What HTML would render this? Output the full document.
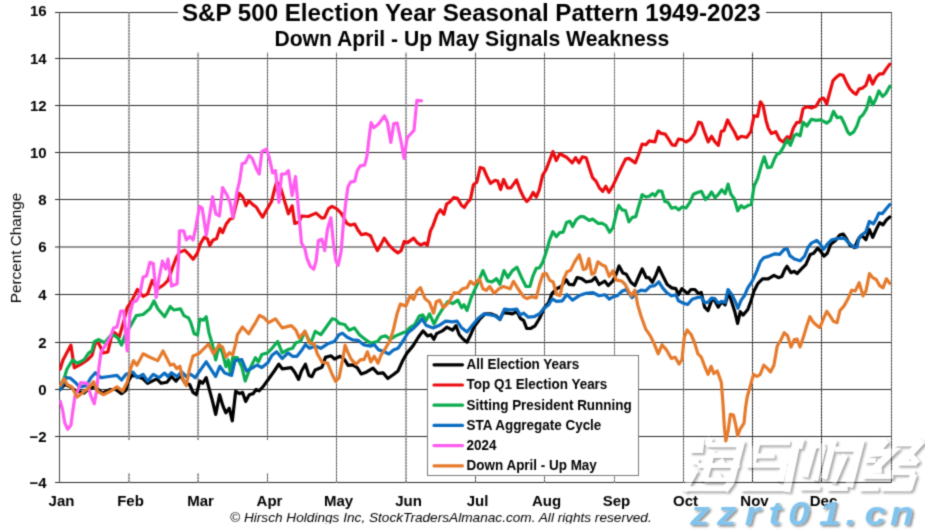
<!DOCTYPE html>
<html><head><meta charset="utf-8"><title>S&amp;P 500 Election Year Seasonal Pattern</title>
<style>
html,body{margin:0;padding:0;background:#fff;}
body{width:925px;height:530px;overflow:hidden;font-family:"Liberation Sans",sans-serif;}
svg{display:block;}
text{font-family:"Liberation Sans",sans-serif;}
.b{font-weight:bold;}
.ln{fill:none;stroke-width:3.2;stroke-linejoin:round;stroke-linecap:round;}
</style></head><body>
<svg width="925" height="530" viewBox="0 0 925 530">
<defs>
<filter id="sh" x="-5%" y="-10%" width="110%" height="130%"><feDropShadow dx="2.2" dy="2.2" stdDeviation="0.9" flood-color="#000" flood-opacity="0.42"/></filter>
<filter id="sh2" x="-5%" y="-10%" width="110%" height="130%"><feDropShadow dx="1.6" dy="1.6" stdDeviation="0.8" flood-color="#000" flood-opacity="0.45"/></filter>
<filter id="shonly" x="-5%" y="-10%" width="110%" height="130%">
<feOffset in="SourceAlpha" dx="1.9" dy="1.9" result="off"/>
<feGaussianBlur in="off" stdDeviation="0.9" result="bl"/>
<feComposite in="bl" in2="SourceAlpha" operator="out" result="cut"/>
<feFlood flood-color="#000" flood-opacity="0.34"/>
<feComposite in2="cut" operator="in"/>
</filter>
<clipPath id="plot"><rect x="59.3" y="0" width="834" height="500"/></clipPath>
<filter id="soft" x="0" y="0" width="925" height="530" filterUnits="userSpaceOnUse" color-interpolation-filters="sRGB"><feConvolveMatrix order="3" kernelMatrix="0.0276 0.1109 0.0276 0.1109 0.4458 0.1109 0.0276 0.1109 0.0276" edgeMode="duplicate" preserveAlpha="true"/></filter>
</defs>
<g filter="url(#soft)">
<rect x="0" y="0" width="925" height="530" fill="#ffffff"/>

<g stroke="#2a2a2a" stroke-width="1" shape-rendering="crispEdges">
<line x1="55" y1="12.5" x2="892" y2="12.5"/>
<line x1="55" y1="58.5" x2="892" y2="58.5"/>
<line x1="55" y1="105.5" x2="892" y2="105.5"/>
<line x1="55" y1="152.5" x2="892" y2="152.5"/>
<line x1="55" y1="199.5" x2="892" y2="199.5"/>
<line x1="55" y1="294.5" x2="892" y2="294.5"/>
<line x1="55" y1="342.5" x2="892" y2="342.5"/>
<line x1="55" y1="389.5" x2="892" y2="389.5"/>
<line x1="55" y1="436.5" x2="892" y2="436.5"/>
<line x1="55" y1="482.5" x2="892" y2="482.5"/>
</g><g stroke="#2a2a2a" stroke-width="1">
<line x1="55" y1="247" x2="892" y2="247"/>
</g>
<line x1="129.0" y1="12" x2="129.0" y2="483" stroke="rgb(145,145,145)" stroke-width="1"/>
<line x1="129.0" y1="12" x2="129.0" y2="483" stroke="rgb(105,105,105)" stroke-width="1" stroke-dasharray="2 1"/>
<line x1="198.05" y1="12" x2="198.05" y2="483" stroke="rgb(145,145,145)" stroke-width="1"/>
<line x1="198.05" y1="12" x2="198.05" y2="483" stroke="rgb(105,105,105)" stroke-width="1" stroke-dasharray="2 1"/>
<line x1="267.5" y1="12" x2="267.5" y2="483" stroke="rgb(153,153,153)" stroke-width="1" shape-rendering="crispEdges"/>
<line x1="267.5" y1="12" x2="267.5" y2="483" stroke="rgb(84,84,84)" stroke-width="1" stroke-dasharray="2 1" shape-rendering="crispEdges"/>
<line x1="336.5" y1="12" x2="336.5" y2="483" stroke="rgb(156,156,156)" stroke-width="1" shape-rendering="crispEdges"/>
<line x1="336.5" y1="12" x2="336.5" y2="483" stroke="rgb(88,88,88)" stroke-width="1" stroke-dasharray="2 1" shape-rendering="crispEdges"/>
<line x1="406.0" y1="12" x2="406.0" y2="483" stroke="rgb(145,145,145)" stroke-width="1"/>
<line x1="406.0" y1="12" x2="406.0" y2="483" stroke="rgb(105,105,105)" stroke-width="1" stroke-dasharray="2 1"/>
<line x1="475.5" y1="12" x2="475.5" y2="483" stroke="rgb(145,145,145)" stroke-width="1" shape-rendering="crispEdges"/>
<line x1="475.5" y1="12" x2="475.5" y2="483" stroke="rgb(70,70,70)" stroke-width="1" stroke-dasharray="2 1" shape-rendering="crispEdges"/>
<line x1="544.5" y1="12" x2="544.5" y2="483" stroke="rgb(153,153,153)" stroke-width="1" shape-rendering="crispEdges"/>
<line x1="544.5" y1="12" x2="544.5" y2="483" stroke="rgb(84,84,84)" stroke-width="1" stroke-dasharray="2 1" shape-rendering="crispEdges"/>
<line x1="614.5" y1="12" x2="614.5" y2="483" stroke="rgb(167,167,167)" stroke-width="1" shape-rendering="crispEdges"/>
<line x1="614.5" y1="12" x2="614.5" y2="483" stroke="rgb(107,107,107)" stroke-width="1" stroke-dasharray="2 1" shape-rendering="crispEdges"/>
<line x1="683.5" y1="12" x2="683.5" y2="483" stroke="rgb(153,153,153)" stroke-width="1" shape-rendering="crispEdges"/>
<line x1="683.5" y1="12" x2="683.5" y2="483" stroke="rgb(84,84,84)" stroke-width="1" stroke-dasharray="2 1" shape-rendering="crispEdges"/>
<line x1="752.5" y1="12" x2="752.5" y2="483" stroke="rgb(125,125,125)" stroke-width="1" shape-rendering="crispEdges"/>
<line x1="752.5" y1="12" x2="752.5" y2="483" stroke="rgb(36,36,36)" stroke-width="1" stroke-dasharray="2 1" shape-rendering="crispEdges"/>
<line x1="821.5" y1="12" x2="821.5" y2="483" stroke="rgb(125,125,125)" stroke-width="1" shape-rendering="crispEdges"/>
<line x1="821.5" y1="12" x2="821.5" y2="483" stroke="rgb(36,36,36)" stroke-width="1" stroke-dasharray="2 1" shape-rendering="crispEdges"/>
<line x1="891.5" y1="12" x2="891.5" y2="483" stroke="rgb(145,145,145)" stroke-width="1" shape-rendering="crispEdges"/>
<line x1="891.5" y1="12" x2="891.5" y2="483" stroke="rgb(70,70,70)" stroke-width="1" stroke-dasharray="2 1" shape-rendering="crispEdges"/>
<rect x="61" y="440" width="240" height="33" fill="#fff"/>
<line x1="59.5" y1="12" x2="59.5" y2="483" stroke="#444" stroke-width="1" shape-rendering="crispEdges"/>
<rect x="178" y="0" width="588" height="52.5" fill="#fff"/>
<polyline class="ln" clip-path="url(#plot)" stroke="#000000" points="60.2,389.5 64.8,384.5 70.4,386.8 75.0,390.2 84.0,393.1 89.7,387.9 95.4,386.8 102.2,393.1 110.2,389.5 115.8,389.5 121.5,393.6 126.0,390.2 128.3,381.1 131.7,375.4 137.4,376.5 143.1,378.8 147.6,383.3 152.2,381.1 156.7,378.8 161.2,383.3 166.9,382.2 171.5,376.5 176.0,381.1 180.5,375.4 185.1,383.3 189.6,384.5 193.0,392.4 196.4,394.7 199.8,381.1 202.6,383.3 206.2,377.7 208.9,387.9 212.3,400.4 215.7,414.4 219.6,394.7 223.0,406.1 225.9,412.9 229.3,408.3 232.3,420.8 235.7,391.3 239.6,393.6 242.5,392.4 245.7,401.5 249.3,394.7 253.2,393.6 256.1,389.5 259.1,390.8 262.9,386.9 268.6,379.0 274.3,371.0 278.8,364.2 282.2,368.8 291.3,367.6 294.7,372.2 298.6,379.4 301.5,371.0 305.4,364.2 309.0,375.6 311.8,376.7 315.2,369.9 322.0,367.2 325.4,357.4 331.1,355.8 334.5,359.0 340.1,356.3 344.7,359.7 348.1,365.4 352.6,364.9 357.2,367.6 361.2,374.0 366.2,372.2 373.0,368.1 377.6,373.3 383.3,372.9 387.8,378.5 393.5,374.5 398.0,371.0 402.6,360.8 407.1,352.9 412.8,346.1 418.5,337.0 423.0,330.9 427.5,335.9 430.9,334.7 433.9,339.3 436.6,333.6 442.3,330.9 446.8,327.2 452.5,330.2 455.9,325.6 459.3,334.7 463.0,339.0 467.0,342.2 470.4,335.3 473.8,327.4 479.5,319.5 485.1,313.8 490.8,313.8 496.5,316.0 499.9,319.5 503.3,312.6 507.8,313.1 512.4,313.8 516.9,311.5 520.3,318.3 523.7,320.6 526.7,328.5 530.5,328.5 535.1,325.8 539.6,318.3 544.2,308.1 548.7,302.4 552.1,293.3 556.6,288.8 561.2,286.5 566.2,279.7 569.1,284.3 573.7,284.9 577.1,277.5 581.6,278.6 586.2,282.0 591.8,280.9 595.2,277.5 599.1,284.5 604.8,281.1 608.2,285.6 612.7,281.1 616.1,274.3 619.1,265.9 622.9,273.1 626.3,274.3 630.9,282.2 634.9,285.6 638.8,276.5 642.2,269.0 646.3,277.7 649.0,277.7 652.4,282.2 655.8,275.4 658.8,267.5 662.6,275.4 667.2,284.5 671.7,287.9 675.8,288.6 678.5,294.7 681.9,288.6 687.6,293.6 691.0,289.5 694.9,289.5 698.5,293.6 701.2,292.4 704.6,307.2 708.0,310.6 712.1,299.2 714.4,299.9 718.3,307.2 721.7,301.5 725.1,304.9 728.5,292.4 731.9,302.6 734.8,311.7 737.6,323.5 740.3,311.7 743.2,315.1 747.8,309.5 751.2,300.4 753.9,291.3 758.0,283.3 762.5,278.8 768.2,278.8 773.9,275.4 778.4,277.7 781.8,276.5 784.8,269.7 787.0,266.3 790.9,272.7 794.3,271.3 797.0,273.6 801.2,269.2 805.8,264.6 810.3,254.4 813.7,253.3 817.6,248.1 820.5,251.0 823.9,256.2 827.3,253.3 830.7,244.2 835.3,240.8 839.8,235.1 843.2,234.0 846.6,239.0 850.0,245.3 854.6,247.6 858.0,239.7 861.4,235.1 865.9,239.7 869.3,229.5 872.7,237.4 876.2,229.5 879.6,222.6 883.0,224.9 886.4,219.9 889.8,217.0"/>
<polyline class="ln" clip-path="url(#plot)" stroke="#ea0c10" points="60.2,369.0 63.0,360.0 70.9,345.1 74.3,367.8 80.6,364.4 87.5,359.9 92.0,355.3 95.4,342.9 98.4,342.9 103.3,353.0 107.9,352.0 111.3,337.2 114.7,332.6 119.2,337.2 123.8,321.3 127.2,307.7 131.7,300.9 137.4,289.5 143.1,296.3 147.6,294.0 152.2,280.4 156.7,289.5 163.5,285.0 168.0,280.4 173.7,264.5 176.5,257.0 179.5,252.4 184.7,250.1 189.2,254.6 193.1,259.2 197.2,253.5 200.6,243.3 204.4,237.2 207.4,238.8 209.7,245.6 213.1,239.9 216.5,238.8 219.9,228.5 222.6,232.6 226.2,224.0 230.1,219.0 232.8,218.3 235.8,205.8 239.2,193.3 242.6,196.8 246.0,205.8 248.9,200.8 252.8,204.7 256.2,207.0 259.6,212.6 262.6,217.2 266.4,210.4 271.6,201.3 274.4,189.9 276.6,182.0 280.0,185.4 283.0,195.6 285.7,204.7 288.4,213.8 292.1,205.8 294.8,223.5 299.3,221.7 301.6,216.0 308.2,216.5 316.1,213.1 321.8,218.1 324.5,217.7 328.6,208.6 332.0,206.3 336.5,208.6 341.1,213.1 346.8,223.3 350.2,225.2 354.7,224.0 358.1,230.2 361.5,234.7 366.0,233.6 370.6,235.8 374.0,243.8 377.4,250.6 380.8,244.9 384.2,238.1 388.8,244.9 393.3,249.5 397.8,252.9 401.2,250.6 404.2,241.5 407.6,242.6 413.7,238.1 417.1,242.6 420.5,244.9 425.1,243.1 427.3,245.4 430.3,231.3 433.0,225.6 437.1,214.3 440.3,209.7 443.9,214.3 446.6,204.0 450.0,201.8 453.5,197.7 457.5,198.4 461.4,205.2 464.3,207.5 467.1,202.9 470.5,199.1 473.4,184.8 476.8,182.2 480.2,167.5 483.6,168.6 487.0,176.5 490.4,183.3 495.0,180.4 497.7,181.1 500.6,189.5 503.6,179.5 507.5,187.9 510.9,187.9 516.5,179.9 519.9,189.5 524.0,198.1 526.8,201.5 530.2,198.1 533.1,192.4 536.3,197.0 539.2,190.2 542.6,175.4 546.0,169.7 549.5,160.6 552.9,151.6 556.3,160.6 559.7,153.8 566.5,157.2 572.2,162.9 575.6,157.7 579.0,162.9 582.4,156.8 586.2,157.7 589.2,167.5 592.6,177.7 596.0,181.1 599.4,187.9 602.8,191.3 605.8,186.3 608.9,192.4 613.0,185.6 619.8,170.9 625.5,159.1 628.9,158.4 635.3,162.9 638.4,155.0 642.1,144.1 645.9,144.8 649.3,140.9 655.0,141.8 658.0,131.1 661.1,133.4 665.2,134.1 668.6,139.1 672.0,144.8 675.4,145.4 678.4,139.1 682.0,139.5 686.0,142.0 690.0,139.7 694.5,134.0 698.6,122.2 701.4,123.1 704.8,132.9 708.2,141.9 711.6,136.3 715.0,141.9 718.4,145.3 721.3,131.3 724.0,130.6 727.5,119.9 730.9,126.0 734.3,131.7 737.7,139.0 741.1,136.3 746.8,137.4 750.8,131.7 754.0,115.8 757.6,116.3 760.4,101.8 763.1,105.6 766.0,120.4 768.3,128.3 771.3,133.5 775.8,131.7 779.7,139.7 783.1,141.9 787.2,136.7 789.9,139.0 793.3,128.3 796.7,122.6 800.1,122.2 803.1,108.6 806.9,106.8 811.5,107.9 816.0,106.3 819.9,99.5 823.5,98.1 826.7,104.0 829.6,93.1 833.0,80.6 836.4,77.2 839.8,74.5 843.2,75.4 846.6,82.9 850.0,89.0 853.5,92.7 856.2,94.3 859.1,89.0 862.5,88.1 865.9,85.2 869.3,75.4 872.7,84.1 876.2,77.2 879.6,73.8 883.0,73.8 886.4,68.6 889.8,64.1"/>
<polyline class="ln" clip-path="url(#plot)" stroke="#0cac50" points="60.2,386.5 64.3,377.8 67.0,369.0 72.7,359.9 77.2,363.3 84.0,359.9 88.6,353.1 92.0,350.8 94.3,341.7 98.8,339.5 104.5,342.9 110.2,336.0 113.6,334.9 118.1,338.3 121.5,345.1 126.0,332.6 130.6,325.8 136.3,315.6 143.1,314.5 149.9,308.8 154.0,300.9 157.8,308.8 164.6,316.8 170.3,306.5 173.7,310.0 180.5,308.8 183.9,315.6 188.5,317.9 190.7,322.4 194.2,333.8 197.6,334.9 199.8,319.0 203.2,320.2 206.2,316.8 208.9,332.6 212.3,344.0 215.7,359.9 219.1,345.1 222.5,353.1 225.9,366.7 228.2,359.9 230.5,373.5 232.7,357.6 237.3,357.6 241.8,366.7 245.2,381.0 249.8,369.0 255.4,357.6 258.4,362.0 261.8,354.5 267.5,352.9 272.0,348.3 277.7,341.5 282.2,352.9 287.9,349.5 292.5,348.3 295.9,342.7 300.4,341.5 304.9,331.3 310.6,343.8 315.2,331.3 320.8,334.7 326.5,326.8 332.2,318.8 335.6,319.5 339.0,323.4 344.7,324.5 349.2,330.2 354.4,327.9 359.4,334.7 365.1,339.3 370.8,343.1 377.6,341.5 381.0,337.0 385.5,335.9 390.1,339.3 395.7,335.9 403.7,332.5 405.7,331.9 410.2,327.4 414.8,324.5 419.3,316.0 422.7,314.9 426.1,320.6 429.5,313.8 434.1,324.0 438.1,316.0 443.1,308.1 447.7,301.7 452.7,303.6 457.9,300.2 461.7,307.7 464.0,304.7 467.0,310.4 471.5,296.8 477.2,284.3 482.9,270.6 487.4,280.9 492.0,282.0 496.5,278.6 499.9,284.3 504.0,270.6 507.8,277.5 512.4,270.6 516.9,267.2 521.5,277.5 526.0,286.5 529.9,286.5 532.8,276.3 536.2,268.4 539.6,267.7 543.0,261.6 547.1,249.1 549.5,240.1 552.9,231.7 556.3,236.7 559.7,232.6 563.1,232.2 566.5,222.6 569.9,221.3 572.6,226.5 576.2,219.7 580.1,216.7 583.5,216.7 589.2,220.4 592.6,219.0 598.3,223.5 601.7,223.1 605.8,225.3 609.6,232.2 613.0,227.6 616.4,212.9 618.7,205.4 622.1,209.9 625.5,210.6 628.9,221.9 632.3,217.4 635.7,216.7 639.1,204.9 642.1,194.7 645.9,197.0 649.3,196.3 652.7,193.6 655.0,195.8 658.4,190.8 661.8,191.3 664.8,201.5 668.0,202.2 671.6,208.3 675.4,207.2 678.9,209.9 682.0,207.0 686.0,208.0 690.0,202.2 693.4,194.3 696.8,192.7 701.4,191.3 705.4,199.5 708.6,196.5 711.6,192.0 715.0,197.7 718.4,194.3 721.8,189.7 725.2,193.6 728.1,184.1 730.9,194.3 734.3,198.8 737.7,210.8 741.1,205.6 744.0,207.9 747.9,205.6 751.3,204.5 754.0,186.3 757.7,178.4 760.8,167.0 764.2,156.8 767.6,167.7 771.3,167.0 774.4,159.1 777.4,153.4 779.7,153.3 783.1,147.6 787.2,139.7 790.3,145.3 794.0,135.8 796.7,134.0 800.1,135.8 803.1,122.2 806.9,126.0 811.5,119.2 816.0,120.4 820.5,119.9 823.9,121.5 826.7,123.1 830.3,120.4 833.5,111.3 837.1,117.6 841.0,117.0 844.4,123.8 847.8,132.2 850.0,134.4 853.5,132.2 856.9,126.0 859.8,117.6 863.0,114.7 866.6,108.6 869.8,97.2 872.7,104.9 875.7,99.5 878.9,90.9 882.5,96.5 885.7,93.6 889.8,86.3"/>
<polyline class="ln" clip-path="url(#plot)" stroke="#0a6cc0" points="60.2,389.5 65.9,377.7 70.4,378.1 75.0,382.2 79.5,386.8 86.3,385.6 90.9,377.7 95.4,372.7 101.0,377.7 109.0,376.5 117.0,375.4 121.5,380.0 126.0,374.3 132.9,372.0 137.4,377.7 143.1,374.3 147.6,381.1 153.3,374.3 159.0,377.7 164.6,373.1 168.0,376.5 171.5,372.7 177.1,376.5 181.7,372.0 186.2,376.5 190.7,374.3 195.3,377.7 199.8,370.9 206.2,361.8 211.2,369.7 215.7,376.5 219.8,366.3 224.8,373.1 231.6,375.4 235.0,360.6 241.8,359.5 246.4,370.9 253.2,367.5 257.0,365.0 261.8,367.6 267.5,363.1 272.0,355.2 276.6,351.8 282.2,358.6 287.9,352.9 292.5,356.3 297.0,356.3 301.5,350.6 305.4,344.5 309.5,348.3 315.2,346.1 320.8,348.3 327.6,343.8 334.5,341.5 339.0,334.7 342.4,333.1 346.9,337.0 352.6,339.9 358.3,340.4 364.0,344.9 370.8,346.1 374.2,344.5 378.7,349.9 383.3,351.3 388.9,354.0 393.5,349.9 398.0,348.3 402.6,341.5 408.2,332.5 413.9,327.9 418.5,323.4 421.9,318.8 426.4,325.6 433.2,327.9 438.9,325.6 445.7,321.1 452.5,321.8 457.0,321.1 461.3,327.4 467.0,331.9 472.6,325.1 478.3,318.3 484.0,313.8 490.8,314.9 495.3,316.0 499.9,319.5 504.4,309.2 511.2,309.9 516.9,309.2 520.3,314.9 523.7,313.1 528.3,317.2 533.9,316.7 539.6,313.8 544.2,308.1 548.7,304.7 552.1,299.0 556.6,301.3 562.3,300.8 566.9,294.5 572.5,300.2 579.3,295.6 586.2,293.3 593.0,292.7 599.1,295.8 604.8,294.7 609.3,299.2 612.7,297.0 617.2,295.8 621.8,291.3 626.3,289.5 632.0,297.7 636.5,292.4 641.1,290.2 645.6,290.8 650.2,286.3 654.7,285.6 658.8,281.8 662.6,287.9 667.2,293.1 671.7,295.8 675.8,294.7 678.5,300.8 683.1,303.1 687.6,304.5 692.2,299.2 696.7,297.7 701.2,297.0 704.6,302.6 708.0,302.2 711.5,298.1 714.9,298.6 718.3,303.1 721.7,301.5 725.1,302.6 728.0,289.5 731.9,294.7 735.3,301.5 738.0,308.3 741.0,300.4 744.4,295.8 747.8,287.9 752.3,281.1 756.9,270.9 760.3,261.8 763.7,257.7 769.3,256.1 775.0,253.8 779.7,254.4 784.2,249.4 787.2,248.8 789.9,255.6 794.4,259.0 800.1,260.8 804.6,256.2 808.0,247.6 811.5,243.1 816.7,240.4 820.5,244.2 823.5,249.4 827.3,244.2 831.9,239.7 837.6,238.5 844.4,238.1 848.9,243.1 853.0,246.5 856.9,247.2 859.1,237.4 862.5,234.4 865.9,231.7 869.3,221.5 873.4,223.8 876.2,219.2 878.9,213.1 882.5,213.6 886.4,208.6 889.8,204.5"/>
<polyline class="ln" clip-path="url(#plot)" stroke="#ff5cf0" points="60.2,401.5 62.5,409.5 64.8,423.0 67.7,429.2 70.9,425.3 72.7,411.7 75.0,395.8 78.4,389.5 80.6,382.7 87.5,383.3 90.9,395.8 94.3,403.8 96.5,391.3 98.8,368.6 101.0,352.0 105.6,345.1 110.2,337.2 113.6,328.1 117.0,327.0 120.8,311.0 123.8,311.0 127.2,350.8 129.9,314.5 132.9,302.0 136.3,301.0 139.7,295.2 143.1,277.0 146.5,275.9 149.9,262.3 153.3,263.4 156.2,297.5 159.0,278.2 162.4,261.1 165.8,269.0 168.0,259.0 171.5,286.1 177.1,283.8 178.5,260.0 179.5,230.8 183.6,230.8 186.3,239.9 189.9,236.5 193.1,239.9 196.0,226.3 199.5,206.3 202.2,208.1 206.3,235.3 209.7,214.9 212.6,196.8 215.8,213.8 219.4,216.0 222.6,187.7 226.7,194.5 230.1,202.4 232.8,217.2 236.9,192.2 239.6,180.9 242.1,163.8 245.3,162.7 248.9,155.4 252.1,158.2 256.2,168.4 259.2,174.0 261.9,151.4 266.4,149.1 269.4,158.2 272.6,172.9 275.5,170.6 278.9,202.4 281.6,174.0 285.3,174.0 288.4,170.6 292.1,195.6 295.5,176.5 298.4,208.4 301.5,243.0 304.8,248.3 307.0,258.5 310.4,266.5 313.8,269.2 316.1,260.8 318.4,240.4 321.8,239.2 324.7,250.6 327.5,229.0 330.9,217.7 333.6,244.9 335.9,260.8 338.1,265.3 341.1,251.7 343.3,224.5 345.6,204.0 347.9,187.0 350.8,181.8 354.7,181.4 357.2,170.8 360.2,165.8 364.7,165.1 367.0,156.0 369.2,136.8 371.1,122.7 373.8,127.7 378.3,124.3 381.7,119.7 384.4,115.9 387.4,122.0 390.8,142.4 393.8,123.6 397.2,123.1 401.0,141.3 404.0,158.3 407.2,137.9 410.1,134.5 414.0,130.4 416.9,100.4 421.5,100.9"/>
<polyline class="ln" clip-path="url(#plot)" stroke="#e57a2c" points="60.2,385.6 64.1,378.8 67.0,384.5 71.6,386.8 77.2,397.0 82.9,392.4 88.6,387.9 93.6,381.8 97.7,391.3 103.3,394.7 110.2,391.3 117.0,386.8 122.6,391.3 127.2,382.2 130.6,368.6 133.5,360.6 136.9,365.2 143.1,353.8 149.9,357.2 157.8,360.6 163.0,350.9 166.9,358.4 170.3,365.2 173.7,364.1 176.7,368.6 179.9,366.3 182.8,378.8 186.2,385.6 189.6,368.6 193.0,356.1 198.7,353.8 204.4,348.2 208.5,344.1 213.5,353.8 219.1,344.8 222.5,347.0 225.9,357.2 229.3,352.7 232.7,355.0 236.2,341.4 237.3,334.9 242.5,327.0 248.6,333.8 254.3,324.7 259.5,315.4 264.1,317.7 268.6,322.7 275.4,318.8 278.8,323.4 282.2,327.9 291.3,325.6 295.9,330.2 299.3,338.1 304.9,331.3 309.5,342.7 314.0,343.8 317.4,354.0 322.0,362.0 327.6,363.1 332.2,374.5 335.6,381.3 339.0,377.9 342.4,360.8 345.1,345.4 348.1,352.9 351.5,359.7 356.0,364.2 360.6,359.7 364.0,359.7 367.4,351.8 370.8,362.0 374.2,356.3 378.0,363.1 381.0,355.2 385.5,348.3 390.1,340.4 393.5,329.1 396.9,314.3 400.3,304.1 406.0,305.9 410.2,295.6 413.6,299.5 417.0,291.1 420.4,287.7 425.0,298.6 429.5,302.4 433.6,313.1 436.3,301.7 439.7,300.2 443.6,307.7 448.8,302.4 454.0,292.7 457.9,293.3 462.4,288.8 467.0,287.7 470.4,281.3 473.8,284.3 479.5,279.0 482.9,288.8 486.3,290.4 489.7,286.5 494.2,293.3 498.8,288.8 503.3,286.5 510.1,288.8 513.5,281.3 518.0,288.8 523.7,296.8 527.1,298.6 531.7,296.8 536.2,297.9 539.6,284.3 543.0,274.1 546.4,273.6 549.8,280.4 553.2,282.0 556.6,294.5 560.0,295.6 563.5,279.7 566.9,271.8 570.3,270.6 574.8,261.6 579.3,254.8 583.4,269.5 586.2,268.4 588.9,258.6 591.8,274.3 594.5,273.1 597.9,261.8 602.5,265.2 605.4,266.3 609.3,276.5 612.7,270.9 616.1,279.9 621.8,281.1 625.2,284.5 628.6,291.3 631.3,295.8 634.9,290.2 637.7,304.9 641.1,316.3 645.6,328.8 650.2,335.6 653.6,342.4 658.2,353.8 662.0,344.8 666.1,349.3 671.3,358.4 675.2,357.2 679.0,364.1 682.0,359.5 684.3,336.8 687.2,330.0 691.1,334.5 694.5,342.5 697.9,353.8 701.3,357.2 704.7,366.3 708.1,374.3 711.1,366.3 713.8,373.6 717.2,370.9 721.3,382.2 722.9,402.6 724.4,427.6 725.8,441.2 728.1,431.0 730.4,414.4 733.5,415.1 735.8,425.3 737.6,435.6 740.3,428.8 744.0,423.1 745.6,407.2 747.2,397.0 750.1,386.8 753.5,374.3 756.9,376.5 760.3,374.3 763.7,365.2 767.1,368.1 770.5,372.0 773.9,365.2 777.3,345.9 780.7,340.2 784.2,332.7 787.6,335.7 791.0,347.0 794.4,339.5 797.1,339.1 800.0,347.0 803.5,336.8 806.9,325.4 809.9,316.7 813.1,322.0 816.7,325.4 819.9,327.6 823.5,318.6 826.7,311.3 830.3,316.3 833.5,321.3 837.1,322.7 839.9,310.6 843.9,306.1 847.8,299.3 851.7,290.2 855.3,290.9 859.2,282.7 863.0,295.9 866.0,290.9 869.4,273.6 872.8,277.7 876.2,279.5 879.6,285.6 883.0,287.9 886.4,278.8 889.8,283.4"/>
<rect x="427.5" y="355.5" width="211" height="120" fill="#fff" stroke="#7a7a7a" stroke-width="1" shape-rendering="crispEdges"/>
<line x1="434" y1="364.8" x2="462.5" y2="364.8" stroke="#000000" stroke-width="3.2" stroke-linecap="round"/>
<text class="b" transform="translate(466.6,369.2) scale(0.955,1)" font-size="14.1">All Election Years</text>
<line x1="434" y1="385.0" x2="462.5" y2="385.0" stroke="#ea0c10" stroke-width="3.2" stroke-linecap="round"/>
<text class="b" transform="translate(466.6,389.4) scale(0.955,1)" font-size="14.1">Top Q1 Election Years</text>
<line x1="434" y1="405.2" x2="462.5" y2="405.2" stroke="#0cac50" stroke-width="3.2" stroke-linecap="round"/>
<text class="b" transform="translate(466.6,409.6) scale(0.955,1)" font-size="14.1">Sitting President Running</text>
<line x1="434" y1="425.4" x2="462.5" y2="425.4" stroke="#0a6cc0" stroke-width="3.2" stroke-linecap="round"/>
<text class="b" transform="translate(466.6,429.8) scale(0.955,1)" font-size="14.1">STA Aggregate Cycle</text>
<line x1="434" y1="445.6" x2="462.5" y2="445.6" stroke="#ff5cf0" stroke-width="3.2" stroke-linecap="round"/>
<text class="b" transform="translate(466.6,450.0) scale(0.955,1)" font-size="14.1">2024</text>
<line x1="434" y1="465.8" x2="462.5" y2="465.8" stroke="#e57a2c" stroke-width="3.2" stroke-linecap="round"/>
<text class="b" transform="translate(466.6,470.2) scale(0.955,1)" font-size="14.1">Down April - Up May</text>
<text class="b" x="46.6" y="488.1" font-size="15" text-anchor="end">−4</text>
<text class="b" x="46.6" y="442.1" font-size="15" text-anchor="end">−2</text>
<text class="b" x="46.6" y="395.1" font-size="15" text-anchor="end">0</text>
<text class="b" x="46.6" y="348.1" font-size="15" text-anchor="end">2</text>
<text class="b" x="46.6" y="300.1" font-size="15" text-anchor="end">4</text>
<text class="b" x="46.6" y="252.1" font-size="15" text-anchor="end">6</text>
<text class="b" x="46.6" y="205.1" font-size="15" text-anchor="end">8</text>
<text class="b" x="46.6" y="158.1" font-size="15" text-anchor="end">10</text>
<text class="b" x="46.6" y="111.1" font-size="15" text-anchor="end">12</text>
<text class="b" x="46.6" y="64.1" font-size="15" text-anchor="end">14</text>
<text class="b" x="46.6" y="16.3" font-size="15" text-anchor="end">16</text>
<text class="b" x="61.5" y="505.6" font-size="15" text-anchor="middle">Jan</text>
<text class="b" x="130.5" y="505.6" font-size="15" text-anchor="middle">Feb</text>
<text class="b" x="200.5" y="505.6" font-size="15" text-anchor="middle">Mar</text>
<text class="b" x="269.5" y="505.6" font-size="15" text-anchor="middle">Apr</text>
<text class="b" x="338.5" y="505.6" font-size="15" text-anchor="middle">May</text>
<text class="b" x="408.5" y="505.6" font-size="15" text-anchor="middle">Jun</text>
<text class="b" x="477.5" y="505.6" font-size="15" text-anchor="middle">Jul</text>
<text class="b" x="546.5" y="505.6" font-size="15" text-anchor="middle">Aug</text>
<text class="b" x="616.5" y="505.6" font-size="15" text-anchor="middle">Sep</text>
<text class="b" x="685.5" y="505.6" font-size="15" text-anchor="middle">Oct</text>
<text class="b" x="754.5" y="505.6" font-size="15" text-anchor="middle">Nov</text>
<text class="b" x="823.5" y="505.6" font-size="15" text-anchor="middle">Dec</text>
<text x="0" y="0" font-size="15.3" text-anchor="middle" transform="translate(21.3,248) rotate(-90)">Percent Change</text>
<text class="b" x="471.3" y="20.6" font-size="24.15" text-anchor="middle">S&amp;P 500 Election Year Seasonal Pattern 1949-2023</text>
<text class="b" x="471.8" y="45.9" font-size="21.15" text-anchor="middle">Down April - Up May Signals Weakness</text>
<text x="440.9" y="522.3" font-size="13.65" font-style="italic" text-anchor="middle">© Hirsch Holdings Inc, StockTradersAlmanac.com. All rights reserved.</text>
<rect x="200" y="523.5" width="480" height="7" fill="#fff"/>
<g filter="url(#shonly)"><g fill="none" stroke="#fff" stroke-linejoin="miter" stroke-linecap="butt">
<polyline stroke-width="6" points="701.6,438.4 700.3,450.1 690.1,450.1"/>
<polyline stroke-width="6" points="696.5,458.2 695.1,464.5"/>
<polyline stroke-width="6" points="695.9,469.5 684.1,491.1"/>
<polyline stroke-width="6" points="710.8,437.4 707.0,445.5"/>
<polyline stroke-width="5" points="706.4,444.7 741.5,444.7"/>
<polyline stroke-width="7" points="741.9,440.4 731.1,481.6 724.6,490.4"/>
<polyline stroke-width="5" points="685.4,488.8 725.7,488.8"/>
<polyline stroke-width="7" points="712.2,449.9 703.8,481.6"/>
<polyline stroke-width="5" points="711.8,455.5 736.8,455.5"/>
<polyline stroke-width="5" points="697.6,465.5 739.5,465.5"/>
<polyline stroke-width="5" points="704.3,480.0 731.1,480.0"/>
<polyline stroke-width="5" points="720.5,459.3 723.9,465.4"/>
<polyline stroke-width="5" points="717.2,472.8 720.5,480.0"/>
<polyline stroke-width="5" points="753.6,442.8 790.1,442.8"/>
<polyline stroke-width="7" points="756.8,442.8 751.6,466.4"/>
<polyline stroke-width="5" points="755.0,455.9 774.6,455.9"/>
<polyline stroke-width="5" points="746.2,465.3 786.8,465.3"/>
<polyline stroke-width="7" points="784.1,466.4 780.0,481.6"/>
<polyline stroke-width="8" points="797.3,438.4 786.2,491.8"/>
<polyline stroke-width="5" points="740.8,488.8 786.8,488.8"/>
<polyline stroke-width="7" points="813.5,445.8 804.7,476.9"/>
<polyline stroke-width="5" points="813.5,445.8 825.0,445.8"/>
<polyline stroke-width="6" points="823.2,446.5 815.1,480.3"/>
<polyline stroke-width="7" points="833.8,439.7 823.6,478.9"/>
<polyline stroke-width="6" points="845.3,454.6 833.1,483.0"/>
<polyline stroke-width="8" points="861.1,439.7 848.9,487.0"/>
<polyline stroke-width="5" points="835.1,449.3 860.1,449.3"/>
<polyline stroke-width="5" points="800.0,488.0 820.3,488.0"/>
<polyline stroke-width="5" points="827.0,488.5 847.6,488.5"/>
<polyline stroke-width="6" points="802.0,438.4 799.3,448.5"/>
<polyline stroke-width="7" points="886.5,439.7 875.0,453.2 891.9,451.9 873.0,470.4 881.8,470.1"/>
<polyline stroke-width="5" points="864.9,460.4 875.7,460.4"/>
<polyline stroke-width="5" points="862.8,476.4 893.2,476.4"/>
<polyline stroke-width="5" points="894.6,443.9 919.6,443.9"/>
<polyline stroke-width="7" points="922.3,440.4 902.7,462.0"/>
<polyline stroke-width="6" points="908.1,452.6 917.8,463.6"/>
<polyline stroke-width="5" points="897.3,463.1 916.5,463.1"/>
<polyline stroke-width="5" points="886.5,472.6 915.1,472.6"/>
<polyline stroke-width="7" points="913.8,473.9 908.8,489.3"/>
<polyline stroke-width="5" points="881.1,488.8 911.1,488.8"/>
<polyline stroke-width="5" points="859.5,488.8 878.6,488.8"/>
</g></g>
<g opacity="0.45"><g fill="none" stroke="#fff" stroke-linejoin="miter" stroke-linecap="butt">
<polyline stroke-width="6" points="701.6,438.4 700.3,450.1 690.1,450.1"/>
<polyline stroke-width="6" points="696.5,458.2 695.1,464.5"/>
<polyline stroke-width="6" points="695.9,469.5 684.1,491.1"/>
<polyline stroke-width="6" points="710.8,437.4 707.0,445.5"/>
<polyline stroke-width="5" points="706.4,444.7 741.5,444.7"/>
<polyline stroke-width="7" points="741.9,440.4 731.1,481.6 724.6,490.4"/>
<polyline stroke-width="5" points="685.4,488.8 725.7,488.8"/>
<polyline stroke-width="7" points="712.2,449.9 703.8,481.6"/>
<polyline stroke-width="5" points="711.8,455.5 736.8,455.5"/>
<polyline stroke-width="5" points="697.6,465.5 739.5,465.5"/>
<polyline stroke-width="5" points="704.3,480.0 731.1,480.0"/>
<polyline stroke-width="5" points="720.5,459.3 723.9,465.4"/>
<polyline stroke-width="5" points="717.2,472.8 720.5,480.0"/>
<polyline stroke-width="5" points="753.6,442.8 790.1,442.8"/>
<polyline stroke-width="7" points="756.8,442.8 751.6,466.4"/>
<polyline stroke-width="5" points="755.0,455.9 774.6,455.9"/>
<polyline stroke-width="5" points="746.2,465.3 786.8,465.3"/>
<polyline stroke-width="7" points="784.1,466.4 780.0,481.6"/>
<polyline stroke-width="8" points="797.3,438.4 786.2,491.8"/>
<polyline stroke-width="5" points="740.8,488.8 786.8,488.8"/>
<polyline stroke-width="7" points="813.5,445.8 804.7,476.9"/>
<polyline stroke-width="5" points="813.5,445.8 825.0,445.8"/>
<polyline stroke-width="6" points="823.2,446.5 815.1,480.3"/>
<polyline stroke-width="7" points="833.8,439.7 823.6,478.9"/>
<polyline stroke-width="6" points="845.3,454.6 833.1,483.0"/>
<polyline stroke-width="8" points="861.1,439.7 848.9,487.0"/>
<polyline stroke-width="5" points="835.1,449.3 860.1,449.3"/>
<polyline stroke-width="5" points="800.0,488.0 820.3,488.0"/>
<polyline stroke-width="5" points="827.0,488.5 847.6,488.5"/>
<polyline stroke-width="6" points="802.0,438.4 799.3,448.5"/>
<polyline stroke-width="7" points="886.5,439.7 875.0,453.2 891.9,451.9 873.0,470.4 881.8,470.1"/>
<polyline stroke-width="5" points="864.9,460.4 875.7,460.4"/>
<polyline stroke-width="5" points="862.8,476.4 893.2,476.4"/>
<polyline stroke-width="5" points="894.6,443.9 919.6,443.9"/>
<polyline stroke-width="7" points="922.3,440.4 902.7,462.0"/>
<polyline stroke-width="6" points="908.1,452.6 917.8,463.6"/>
<polyline stroke-width="5" points="897.3,463.1 916.5,463.1"/>
<polyline stroke-width="5" points="886.5,472.6 915.1,472.6"/>
<polyline stroke-width="7" points="913.8,473.9 908.8,489.3"/>
<polyline stroke-width="5" points="881.1,488.8 911.1,488.8"/>
<polyline stroke-width="5" points="859.5,488.8 878.6,488.8"/>
</g></g>
<text transform="translate(690.3,524.7) scale(1.18,1)" x="0.0 22.6 46.2 66.3 82.8 109.1 131.5 147.6 169.2" y="0" font-size="33" font-weight="bold" font-style="italic" fill="#80c4ee" filter="url(#sh2)">zzrt01.cn</text>
</g></svg></body></html>
